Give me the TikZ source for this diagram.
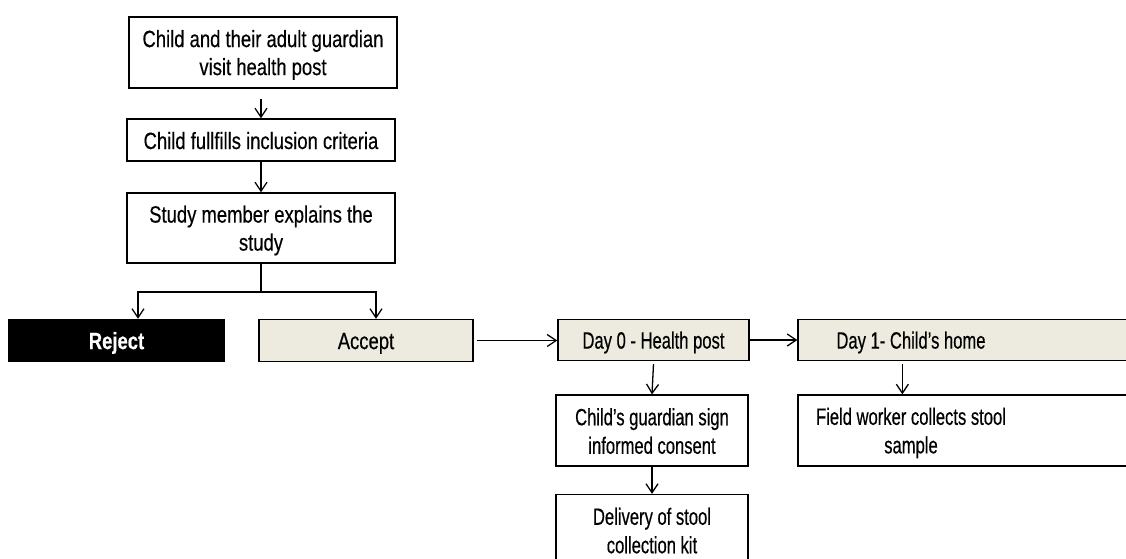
\documentclass[tikz,border=0pt]{standalone}
\usepackage{fontspec}
\setmainfont{Liberation Sans}[FakeStretch=0.785,FakeBold=0.4]
\newfontfamily\narrowfont{Liberation Sans}[FakeStretch=0.706,FakeBold=0.4]
\usetikzlibrary{arrows.meta}
\definecolor{beige}{RGB}{237,235,224}
\newcommand{\mystrut}{\rule[-4pt]{0pt}{26pt}}
\begin{document}
\begin{tikzpicture}[x=1pt,y=-1pt,
  box/.style={draw=black, line width=1.3pt, align=center, inner sep=0pt, font=\fontsize{23.5}{28}\selectfont},
  rbox/.style={box, font=\narrowfont\fontsize{23.5}{28.5}\selectfont},
  rtext/.style={inner sep=0pt, align=center, font=\narrowfont\fontsize{23.5}{28.5}\selectfont},
  link/.style={line width=1.3pt},
  arr/.style={link, -{Straight Barb[length=9pt,width=12pt,line width=1.3pt]}}]
\useasboundingbox (0,0) rectangle (1126,558);
\clip (0,0) rectangle (1126,558);
\fill[white] (0,0) rectangle (1126,558);
\node[box, minimum width=268, minimum height=71] (b1) at (263,52.5) {\mystrut Child and their adult guardian\\\mystrut visit health post};
\node[box, minimum width=268, minimum height=42] (b2) at (261,140) {\mystrut Child fullfills inclusion criteria};
\node[box, minimum width=268, minimum height=70] (b3) at (261,228) {\mystrut Study member explains the\\\mystrut study};
\node[box, fill=black, text=white, font=\bfseries\fontsize{23.5}{28}\selectfont, minimum width=215, minimum height=42] (rej) at (116.5,340.5) {\mystrut Reject};
\node[box, fill=beige, minimum width=214, minimum height=42] (acc) at (366,340.5) {\mystrut Accept};
\node[rbox, fill=beige, minimum width=191, minimum height=41] (d0) at (653.5,340) {\mystrut Day 0 - Health post};
\node[rbox, fill=beige, minimum width=342, minimum height=41] (d1) at (969,340) {};
\node[rtext] (d1t) at (911,340) {\mystrut Day 1- Child’s home};
\node[rbox, minimum width=192, minimum height=71] (cons) at (652,430.5) {\mystrut Child’s guardian sign\\\mystrut informed consent};
\node[rbox, minimum width=192, minimum height=71] (del) at (652,530) {\mystrut Delivery of stool\\\mystrut collection kit};
\node[rbox, minimum width=342, minimum height=71] (fw) at (969,430.5) {};
\node[rtext] (fwt) at (911,430.5) {\mystrut Field worker collects stool\\\mystrut sample};
\coordinate (split) at (261,292);
\draw[arr] (b2.north) ++(0,-19) -- (b2.north);
\draw[arr] (b2.south) -- (b3.north);
\draw[link] (b3.south) -- (split);
\draw[arr] (split) -| ([xshift=21.5pt]rej.north);
\draw[arr] (split) -| ([xshift=10pt]acc.north);
\draw[arr] ([xshift=3pt]acc.east) -- (acc.east -| d0.west);
\draw[arr] (d0.east) -- (d1.west);
\draw[arr] ([yshift=-3pt]d0.south) -- (cons.north);
\draw[arr] (cons.south) -- (del.north);
\draw[arr] ([xshift=105pt,yshift=-3pt]d1.south west) -- ([xshift=105pt]fw.north west);
\end{tikzpicture}
\end{document}
